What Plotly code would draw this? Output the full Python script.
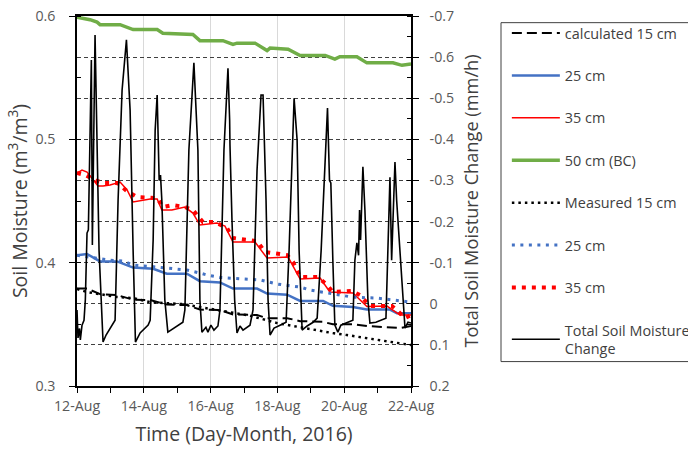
import plotly.graph_objects as go
import pandas as pd

START = pd.Timestamp("2016-08-12")

# ---- data (time in days since 12-Aug-2016 00:00) ----
calc15_t = [0, 0.30, 0.69, 1.20, 1.68, 2.19, 2.69, 3.29, 3.68, 4.28, 4.67, 5.39, 5.69, 6.29, 6.68, 7.37, 7.66, 8.26, 8.68, 9.28, 9.67, 10.0]
calc15_v = [0.379, 0.379, 0.3745, 0.3737, 0.370, 0.3697, 0.366, 0.3656, 0.362, 0.3616, 0.358, 0.3575, 0.355, 0.355, 0.3526, 0.352, 0.350, 0.350, 0.3486, 0.348, 0.347, 0.3486]

calc25_t = [0, 0.30, 0.69, 1.20, 1.68, 2.28, 2.69, 3.29, 3.68, 4.28, 4.67, 5.39, 5.69, 6.29, 6.68, 7.37, 7.66, 8.26, 8.68, 9.37, 9.58, 10.0]
calc25_v = [0.406, 0.407, 0.401, 0.401, 0.396, 0.395, 0.391, 0.391, 0.385, 0.384, 0.379, 0.379, 0.375, 0.374, 0.369, 0.369, 0.365, 0.364, 0.362, 0.362, 0.359, 0.359]

calc35_t = [0, 0.15, 0.30, 0.45, 0.63, 0.78, 0.99, 1.29, 1.50, 1.68, 1.89, 2.19, 2.40, 2.54, 2.84, 3.23, 3.47, 3.68, 4.19, 4.43, 4.67, 5.33, 5.69, 6.32, 6.68, 7.28, 7.57, 8.26, 8.68, 9.28, 9.67, 10.0]
calc35_v = [0.4727, 0.4751, 0.4735, 0.4686, 0.4621, 0.4621, 0.4629, 0.4654, 0.4589, 0.4492, 0.4500, 0.4516, 0.4516, 0.4427, 0.4427, 0.4451, 0.4402, 0.4305, 0.4321, 0.4297, 0.4167, 0.4167, 0.4037, 0.4045, 0.3867, 0.3875, 0.3762, 0.3754, 0.3644, 0.3648, 0.3575, 0.3575]

bc50_t = [0, 0.18, 0.39, 0.60, 0.69, 1.29, 1.50, 1.68, 2.40, 2.57, 3.47, 3.68, 4.37, 4.67, 4.79, 5.33, 5.69, 5.78, 6.32, 6.68, 7.43, 7.72, 7.87, 8.38, 8.68, 9.46, 9.73, 10.0]
bc50_v = [0.599, 0.598, 0.597, 0.595, 0.593, 0.593, 0.591, 0.589, 0.589, 0.586, 0.585, 0.580, 0.580, 0.577, 0.578, 0.578, 0.572, 0.574, 0.573, 0.568, 0.568, 0.565, 0.567, 0.567, 0.562, 0.562, 0.560, 0.561]

meas15_t = [0, 0.30, 1.20, 1.68, 2.19, 2.69, 3.17, 3.68, 4.19, 4.67, 5.18, 5.99, 6.47, 6.89, 7.28, 7.66, 8.08, 8.47, 8.98, 9.46, 9.88, 10.0]
meas15_v = [0.3786, 0.3762, 0.3721, 0.3713, 0.368, 0.3672, 0.3664, 0.364, 0.3616, 0.3591, 0.357, 0.351, 0.3486, 0.347, 0.3445, 0.3429, 0.3413, 0.3397, 0.338, 0.3356, 0.334, 0.3332]

meas25_t = [0, 0.99, 1.38, 1.68, 2.19, 2.69, 3.29, 3.68, 3.89, 4.28, 4.88, 5.48, 5.99, 6.68, 6.98, 7.66, 8.26, 8.98, 9.46, 10.0]
meas25_v = [0.406, 0.402, 0.4013, 0.398, 0.397, 0.3956, 0.394, 0.3916, 0.390, 0.388, 0.3867, 0.386, 0.3827, 0.3802, 0.3778, 0.3745, 0.372, 0.3713, 0.3697, 0.368]

meas35_t = [0, 0.24, 0.60, 0.84, 1.20, 1.53, 1.80, 2.19, 2.40, 2.57, 2.87, 3.23, 3.47, 3.77, 4.13, 4.49, 4.67, 5.39, 5.63, 6.29, 6.47, 6.68, 7.22, 7.49, 7.66, 8.23, 8.47, 8.77, 9.43, 9.67, 9.82, 10.0]
meas35_v = [0.4727, 0.4711, 0.4662, 0.4646, 0.4646, 0.4573, 0.4532, 0.4532, 0.4524, 0.4451, 0.4467, 0.4451, 0.4427, 0.4329, 0.4329, 0.4281, 0.4200, 0.4175, 0.4086, 0.4062, 0.4005, 0.3883, 0.3883, 0.3818, 0.3762, 0.3770, 0.3737, 0.3648, 0.3648, 0.3591, 0.3551, 0.3575]

total_t = [0, 0.03, 0.075, 0.10, 0.15, 0.21, 0.25, 0.30, 0.34, 0.43, 0.46, 0.54, 0.66, 0.78, 0.87, 1.05, 1.14, 1.23, 1.35, 1.48, 1.59, 1.68, 1.75, 1.89, 2.13, 2.19, 2.28, 2.34, 2.40, 2.46, 2.50, 2.54, 2.63, 2.72, 2.93, 3.17, 3.23, 3.35, 3.50, 3.62, 3.68, 3.74, 3.86, 3.92, 4.01, 4.10, 4.22, 4.28, 4.40, 4.52, 4.57, 4.58, 4.64, 4.72, 4.79, 4.88, 4.97, 5.06, 5.18, 5.27, 5.39, 5.51, 5.57, 5.66, 5.72, 5.78, 5.90, 6.08, 6.26, 6.35, 6.50, 6.59, 6.65, 6.74, 6.89, 7.07, 7.19, 7.31, 7.40, 7.50, 7.56, 7.60, 7.66, 7.72, 7.81, 7.90, 8.11, 8.26, 8.32, 8.38, 8.43, 8.46, 8.49, 8.56, 8.62, 8.71, 8.77, 8.95, 9.25, 9.31, 9.37, 9.42, 9.52, 9.57, 9.67, 9.73, 9.82, 9.91, 10.0]
total_v = [0.015, 0.083, 0.06, 0.088, 0.052, 0.04, -0.01, -0.172, -0.18, -0.593, -0.143, -0.654, -0.13, 0.093, 0.076, 0.054, 0.04, -0.252, -0.52, -0.642, -0.471, -0.13, 0.093, 0.071, 0.052, 0.04, -0.155, -0.423, -0.508, -0.30, -0.313, -0.252, -0.009, 0.069, 0.057, 0.045, 0.015, -0.374, -0.586, -0.374, -0.009, 0.069, 0.057, 0.069, 0.052, 0.064, 0.054, 0.015, -0.374, -0.573, -0.447, -0.386, -0.204, -0.009, 0.071, 0.054, 0.064, 0.059, 0.052, 0.015, -0.325, -0.508, -0.508, -0.252, -0.009, 0.076, 0.059, 0.052, 0.045, -0.13, -0.50, -0.398, -0.13, 0.064, 0.054, 0.045, 0.035, -0.13, -0.30, -0.476, -0.30, -0.294, -0.106, 0.052, 0.069, 0.052, 0.045, 0.04, -0.106, -0.148, -0.118, -0.228, -0.155, -0.333, -0.228, -0.009, 0.047, 0.045, 0.035, -0.13, -0.308, -0.106, -0.345, -0.252, -0.123, -0.033, 0.059, 0.045, 0.047]

right_tickvals = [-0.7, -0.6, -0.5, -0.4, -0.3, -0.2, -0.1, 0, 0.1, 0.2]
right_ticktext = ["-0.7", "-0.6", "-0.5", "-0.4", "-0.3", "-0.2", "-0.1", "0", "0.1", "0.2"]


def to_time(days):
    return START + pd.to_timedelta(days, unit="D")


series = [
    ("calculated 15 cm", calc15_t, calc15_v, dict(color="black", width=2, dash="10px,5px"), "y"),
    ("25 cm", calc25_t, calc25_v, dict(color="#4472C4", width=2.5), "y"),
    ("35 cm", calc35_t, calc35_v, dict(color="#FF0000", width=1.5), "y"),
    ("50 cm (BC)", bc50_t, bc50_v, dict(color="#70AD47", width=3.5), "y"),
    ("Measured 15 cm", meas15_t, meas15_v, dict(color="black", width=2.5, dash="2.5px,4px"), "y"),
    ("25 cm", meas25_t, meas25_v, dict(color="#4472C4", width=3, dash="3px,5.5px"), "y"),
    ("35 cm", meas35_t, meas35_v, dict(color="#FF0000", width=4, dash="4px,6px"), "y"),
    ("Total Soil Moisture<br>Change", total_t, total_v, dict(color="black", width=1.6), "y2"),
]

fig = go.Figure()
for i, (name, t, v, line, ax) in enumerate(series):
    assert len(t) == len(v), name
    fig.add_trace(go.Scatter(
        x=to_time(t), y=v, name=name, mode="lines", line=line,
        yaxis=ax, legendgroup="g%d" % i,
    ))

title_font = dict(family="Open Sans", size=19.5, color="#404040")
tick_font = dict(family="Open Sans", size=14.2, color="#595959")

# legend frame (decoration only)
fig.add_shape(type="rect", xref="paper", yref="paper",
              x0=1.2695, x1=1.95, y0=0.066, y1=0.982,
              line=dict(color="#404040", width=1), fillcolor="rgba(0,0,0,0)", layer="above")

fig.update_layout(
    width=688, height=451,
    margin=dict(l=77, r=277, t=16, b=65, autoexpand=False),
    paper_bgcolor="white", plot_bgcolor="white",
    font=dict(family="Open Sans", size=13, color="#595959"),
    showlegend=True,
    legend=dict(
        x=1.287, y=0.997, xanchor="left", yanchor="top",
        borderwidth=0, bgcolor="rgba(0,0,0,0)",
        font=dict(family="Open Sans", size=14.4, color="#404040"),
        tracegroupgap=20.7, traceorder="grouped", itemwidth=48,
    ),
    xaxis=dict(
        type="date",
        range=[to_time(0), to_time(10)],
        tick0=to_time(0), dtick=2 * 86400000, tickformat="%d-%b",
        showgrid=True, gridcolor="#d9d9d9", gridwidth=1,
        showline=True, linecolor="black", linewidth=1.5, mirror=True,
        ticks="outside", ticklen=5, tickcolor="black",
        minor=dict(dtick=86400000, ticks="outside", ticklen=5, tickcolor="black", showgrid=False),
        zeroline=False, tickfont=tick_font, ticklabelstandoff=1,
        title=dict(text="Time (Day-Month, 2016)", font=title_font, standoff=14),
    ),
    yaxis=dict(
        range=[0.3, 0.6], dtick=0.1, tickformat=".1f",
        showgrid=False, zeroline=False,
        showline=True, linecolor="black", linewidth=1.5,
        ticks="outside", ticklen=6, tickcolor="black",
        minor=dict(dtick=0.05, ticks="inside", ticklen=4, tickcolor="black", showgrid=False),
        tickfont=tick_font, ticklabelstandoff=11, ticklabeloverflow="allow",
        title=dict(text="Soil Moisture (m<sup>3</sup>/m<sup>3</sup>)", font=title_font, standoff=3),
    ),
    yaxis2=dict(
        overlaying="y", side="right",
        range=[0.2, -0.7],
        tickvals=right_tickvals, ticktext=right_ticktext,
        showgrid=True, gridcolor="#404040", gridwidth=1, griddash="4px,3px",
        zeroline=False,
        showline=True, linecolor="black", linewidth=1.5,
        ticks="outside", ticklen=6, tickcolor="black",
        minor=dict(dtick=0.05, tick0=0, ticks="inside", ticklen=4, tickcolor="black", showgrid=False),
        tickfont=tick_font, ticklabelstandoff=8, ticklabeloverflow="allow",
        title=dict(text="Total Soil Moisture Change (mm/h)",
                   font=dict(family="Open Sans", size=18.2, color="#404040"), standoff=12),
    ),
)

fig.write_html(
    "out.html",
    config={"displayModeBar": False},
    post_script="document.body.style.margin='0';document.body.style.overflow='hidden';",
)
